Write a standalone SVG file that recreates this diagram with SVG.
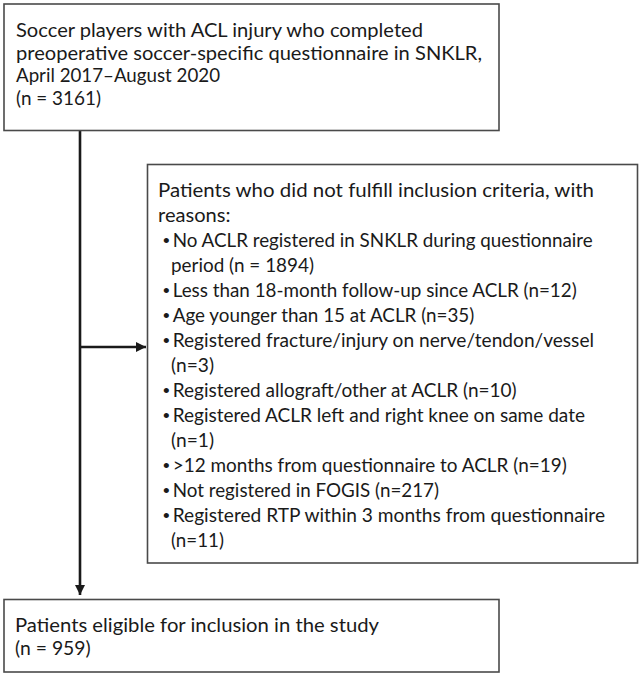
<svg xmlns="http://www.w3.org/2000/svg" width="642" height="677" viewBox="0 0 642 677">
<style>
.box{fill:#fff;stroke:#4a4a4a;stroke-width:1.6}
.t{font-family:Lato,"Liberation Sans",sans-serif;font-size:19.5px;fill:#1a1a1a}
.b{font-family:"Liberation Sans",sans-serif;font-size:19px;fill:#1a1a1a}
.c{stroke:#1a1a1a;stroke-width:2.6;fill:none}
</style>
<defs>
<marker id="ah" viewBox="0 0 10 10" refX="10" refY="5" markerWidth="4" markerHeight="4" markerUnits="strokeWidth" orient="auto">
<path d="M0,0 L10,5 L0,10 z" fill="#1a1a1a"/>
</marker>
</defs>
<rect width="642" height="677" fill="#fff"/>
<g id="connectors">
<line class="c" x1="80" y1="131" x2="80" y2="595" marker-end="url(#ah)"/>
<line class="c" x1="80" y1="347" x2="146" y2="347" marker-end="url(#ah)"/>
</g>
<g id="node-start">
<rect class="box" x="4" y="4" width="495" height="126.5"/>
<text class="t" x="16" y="37" textLength="407" lengthAdjust="spacingAndGlyphs">Soccer players with ACL injury who completed</text>
<text class="t" x="16" y="59.5" textLength="466" lengthAdjust="spacingAndGlyphs">preoperative soccer-specific questionnaire in SNKLR,</text>
<text class="t" x="16" y="82" textLength="204" lengthAdjust="spacingAndGlyphs">April 2017–August 2020</text>
<text class="t" x="16" y="104.5" textLength="85" lengthAdjust="spacingAndGlyphs">(n = 3161)</text>
</g>
<g id="node-excluded">
<rect class="box" x="147.5" y="164.5" width="490" height="398.5"/>
<text class="t" x="158" y="197" textLength="436" lengthAdjust="spacingAndGlyphs">Patients who did not fulfill inclusion criteria, with</text>
<text class="t" x="158" y="222" textLength="72.5" lengthAdjust="spacingAndGlyphs">reasons:</text>
<text class="b" x="163" y="246.5">•</text><text class="t" x="172.7" y="247" textLength="420" lengthAdjust="spacingAndGlyphs">No ACLR registered in SNKLR during questionnaire</text>
<text class="t" x="171" y="272" textLength="143" lengthAdjust="spacingAndGlyphs">period (n = 1894)</text>
<text class="b" x="163" y="296.5">•</text><text class="t" x="172.7" y="297" textLength="404" lengthAdjust="spacingAndGlyphs">Less than 18-month follow-up since ACLR (n=12)</text>
<text class="b" x="163" y="321.5">•</text><text class="t" x="172.7" y="322" textLength="301.6" lengthAdjust="spacingAndGlyphs">Age younger than 15 at ACLR (n=35)</text>
<text class="b" x="163" y="346.5">•</text><text class="t" x="172.7" y="347" textLength="421.3" lengthAdjust="spacingAndGlyphs">Registered fracture/injury on nerve/tendon/vessel</text>
<text class="t" x="171" y="372" textLength="43" lengthAdjust="spacingAndGlyphs">(n=3)</text>
<text class="b" x="163" y="396.5">•</text><text class="t" x="172.7" y="397" textLength="344" lengthAdjust="spacingAndGlyphs">Registered allograft/other at ACLR (n=10)</text>
<text class="b" x="163" y="421.5">•</text><text class="t" x="172.7" y="422" textLength="412.3" lengthAdjust="spacingAndGlyphs">Registered ACLR left and right knee on same date</text>
<text class="t" x="171" y="447" textLength="43" lengthAdjust="spacingAndGlyphs">(n=1)</text>
<text class="b" x="163" y="471.5">•</text><text class="t" x="172.7" y="472" textLength="394" lengthAdjust="spacingAndGlyphs">&gt;12 months from questionnaire to ACLR (n=19)</text>
<text class="b" x="163" y="496.5">•</text><text class="t" x="172.7" y="497" textLength="266.3" lengthAdjust="spacingAndGlyphs">Not registered in FOGIS (n=217)</text>
<text class="b" x="163" y="521.5">•</text><text class="t" x="172.7" y="522" textLength="432.3" lengthAdjust="spacingAndGlyphs">Registered RTP within 3 months from questionnaire</text>
<text class="t" x="171" y="547" textLength="53" lengthAdjust="spacingAndGlyphs">(n=11)</text>
</g>
<g id="node-eligible">
<rect class="box" x="4" y="599.5" width="495" height="72.5"/>
<text class="t" x="15" y="632" textLength="364" lengthAdjust="spacingAndGlyphs">Patients eligible for inclusion in the study</text>
<text class="t" x="15" y="655" textLength="75.7" lengthAdjust="spacingAndGlyphs">(n = 959)</text>
</g>
</svg>
